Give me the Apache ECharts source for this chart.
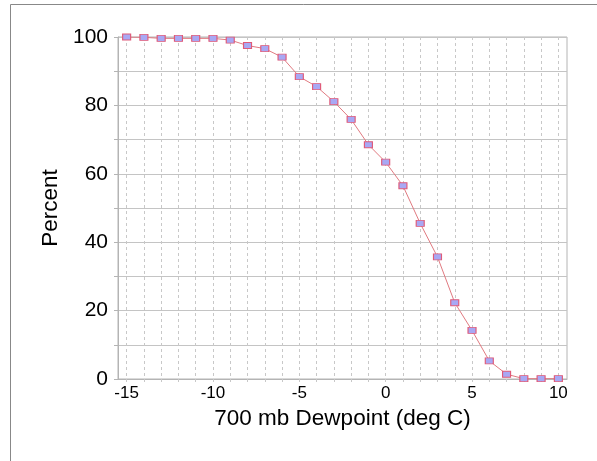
<!DOCTYPE html>
<html>
<head>
<meta charset="utf-8">
<script src="https://cdn.jsdelivr.net/npm/echarts@6/dist/echarts.min.js"></script>
<style>html,body{margin:0;padding:0;background:#fff;}#c{width:597px;height:461px;}</style>
</head>
<body>
<div id="c"></div>
<script>
const categories = ['-15','-14','-13','-12','-11','-10','-9','-8','-7','-6','-5','-4','-3','-2','-1','0','1','2','3','4','5','6','7','8','9','10'];
const percentValues = [100,99.9,99.6,99.6,99.6,99.6,99.1,97.5,96.6,94.1,88.4,85.5,81.1,75.9,68.5,63.4,56.5,45.5,35.7,22.3,14.2,5.3,1.4,0.1,0.1,0.1];
const yTicks = [0,20,40,60,80,100];

const chart = echarts.init(document.getElementById('c'), null, {renderer:'canvas'});
const FONT = 'Liberation Sans';
chart.setOption({
  animation:false,
  backgroundColor:'#ffffff',
  textStyle:{fontFamily:FONT},
  graphic:[
    {type:'polyline', shape:{points:[[10.5,461],[10.5,4.5],[597,4.5]]}, style:{stroke:'#888888', lineWidth:1, fill:null}, silent:true}
  ],
  grid:{left:118, right:30, top:37, bottom:82, show:true, borderColor:'#b4b4b4', borderWidth:1},
  xAxis:{
    type:'category',
    data:categories,
    boundaryGap:true,
    name:'700 mb Dewpoint (deg C)',
    nameLocation:'middle',
    nameGap:24,
    nameTextStyle:{fontSize:22.5, color:'#000', fontFamily:FONT},
    axisLine:{show:true, lineStyle:{color:'#b4b4b4'}},
    axisTick:{show:true, alignWithLabel:true, interval:0, length:3, lineStyle:{color:'#c8c8c8', type:'dashed'}},
    axisLabel:{interval:4, fontSize:17, color:'#000', margin:6, fontFamily:FONT},
    splitLine:{show:true, alignWithLabel:true, interval:0, lineStyle:{color:'#c8c8c8', type:[3,3], width:1}}
  },
  yAxis:{
    type:'value',
    min:0, max:100, interval:10,
    name:'Percent',
    nameLocation:'middle',
    nameGap:50,
    nameTextStyle:{fontSize:22.5, color:'#000', fontFamily:FONT},
    axisLine:{show:true, lineStyle:{color:'#b4b4b4'}},
    axisTick:{show:true, length:4, lineStyle:{color:'#b4b4b4'}},
    axisLabel:{fontSize:21, color:'#000', margin:10, fontFamily:FONT,
      formatter:function(v){ return yTicks.indexOf(v) >= 0 ? String(v) : ''; }},
    splitLine:{show:true, lineStyle:{color:'#c4c4c4', width:1}}
  },
  series:[{
    type:'line',
    data:percentValues,
    symbol:'rect',
    symbolSize:[8,6],
    lineStyle:{color:'#e07a80', width:1},
    itemStyle:{color:'#a8a8f4', borderColor:'#e05a78', borderWidth:1},
    z:5
  }]
});
</script>
</body>
</html>
